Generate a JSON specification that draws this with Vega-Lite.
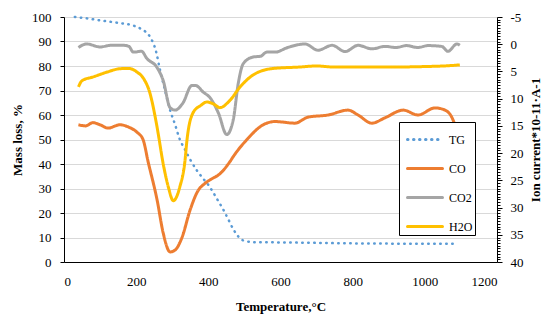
{
  "$schema": "https://vega.github.io/schema/vega-lite/v6.json",
  "width": 433,
  "height": 245,
  "autosize": {"type": "none"},
  "padding": {"left": 64, "top": 17, "right": 53, "bottom": 58},
  "background": "white",
  "config": {
    "view": {"stroke": null},
    "font": "Liberation Serif",
    "axis": {"labelFont": "Liberation Serif", "titleFont": "Liberation Serif", "labelFontSize": 13, "titleFontSize": 13, "titleFontWeight": "bold", "labelColor": "#000", "titleColor": "#000", "domainColor": "#000", "tickColor": "#000"}
  },
  "datasets": {
    "tg": [
      {"series": "TG", "T": 30, "v": 100}, {"series": "TG", "T": 60, "v": 99.5}, {"series": "TG", "T": 100, "v": 98.6}, {"series": "TG", "T": 150, "v": 97.6},
      {"series": "TG", "T": 192, "v": 96.5}, {"series": "TG", "T": 215, "v": 95}, {"series": "TG", "T": 238, "v": 92}, {"series": "TG", "T": 255, "v": 86},
      {"series": "TG", "T": 266, "v": 78.5}, {"series": "TG", "T": 280, "v": 70}, {"series": "TG", "T": 294, "v": 62}, {"series": "TG", "T": 308, "v": 56},
      {"series": "TG", "T": 321, "v": 50}, {"series": "TG", "T": 335, "v": 46}, {"series": "TG", "T": 349, "v": 42}, {"series": "TG", "T": 370, "v": 37},
      {"series": "TG", "T": 386, "v": 34}, {"series": "TG", "T": 400, "v": 31.5}, {"series": "TG", "T": 413, "v": 28.5}, {"series": "TG", "T": 427, "v": 25},
      {"series": "TG", "T": 441, "v": 21.5}, {"series": "TG", "T": 455, "v": 17.5}, {"series": "TG", "T": 469, "v": 13.4}, {"series": "TG", "T": 480, "v": 11},
      {"series": "TG", "T": 490, "v": 9.3}, {"series": "TG", "T": 505, "v": 8.5}, {"series": "TG", "T": 524, "v": 8.1}, {"series": "TG", "T": 600, "v": 8.0},
      {"series": "TG", "T": 700, "v": 7.8}, {"series": "TG", "T": 800, "v": 7.6}, {"series": "TG", "T": 900, "v": 7.5}, {"series": "TG", "T": 1000, "v": 7.5},
      {"series": "TG", "T": 1084, "v": 7.5}
    ],
    "ion": [
      {"series": "CO", "T": 40, "v": 14.8}, {"series": "CO", "T": 60, "v": 15.0}, {"series": "CO", "T": 80, "v": 14.4}, {"series": "CO", "T": 100, "v": 14.8},
      {"series": "CO", "T": 122, "v": 15.4}, {"series": "CO", "T": 155, "v": 14.8}, {"series": "CO", "T": 180, "v": 15.25}, {"series": "CO", "T": 202, "v": 16.15},
      {"series": "CO", "T": 219, "v": 17.5}, {"series": "CO", "T": 233, "v": 21.55}, {"series": "CO", "T": 258, "v": 28.6}, {"series": "CO", "T": 275, "v": 34.7},
      {"series": "CO", "T": 294, "v": 38.15}, {"series": "CO", "T": 308, "v": 37.8}, {"series": "CO", "T": 327, "v": 35.5}, {"series": "CO", "T": 349, "v": 30.55},
      {"series": "CO", "T": 371, "v": 26.95}, {"series": "CO", "T": 390, "v": 25.6}, {"series": "CO", "T": 405, "v": 24.9}, {"series": "CO", "T": 432, "v": 23.8},
      {"series": "CO", "T": 460, "v": 21.55}, {"series": "CO", "T": 469, "v": 20.65}, {"series": "CO", "T": 507, "v": 17.5}, {"series": "CO", "T": 552, "v": 14.8},
      {"series": "CO", "T": 585, "v": 14.2}, {"series": "CO", "T": 640, "v": 14.5}, {"series": "CO", "T": 676, "v": 13.4}, {"series": "CO", "T": 732, "v": 13.0},
      {"series": "CO", "T": 787, "v": 12.1}, {"series": "CO", "T": 815, "v": 13.0}, {"series": "CO", "T": 853, "v": 14.5}, {"series": "CO", "T": 890, "v": 13.5},
      {"series": "CO", "T": 940, "v": 12.1}, {"series": "CO", "T": 981, "v": 13.0}, {"series": "CO", "T": 1028, "v": 11.7}, {"series": "CO", "T": 1056, "v": 12.1},
      {"series": "CO", "T": 1075, "v": 13.45}, {"series": "CO", "T": 1090, "v": 16.15},
      {"series": "CO2", "T": 40, "v": 0.6}, {"series": "CO2", "T": 63, "v": -0.05}, {"series": "CO2", "T": 100, "v": 0.5}, {"series": "CO2", "T": 130, "v": 0.2},
      {"series": "CO2", "T": 164, "v": 0.2}, {"series": "CO2", "T": 180, "v": 0.4}, {"series": "CO2", "T": 192, "v": 1.45}, {"series": "CO2", "T": 215, "v": 1.3},
      {"series": "CO2", "T": 230, "v": 2.65}, {"series": "CO2", "T": 257, "v": 4.2}, {"series": "CO2", "T": 275, "v": 6.7}, {"series": "CO2", "T": 294, "v": 11.65},
      {"series": "CO2", "T": 308, "v": 12.1}, {"series": "CO2", "T": 330, "v": 10.75}, {"series": "CO2", "T": 354, "v": 7.6}, {"series": "CO2", "T": 365, "v": 7.6},
      {"series": "CO2", "T": 386, "v": 8.8}, {"series": "CO2", "T": 405, "v": 9.85}, {"series": "CO2", "T": 428, "v": 12.65}, {"series": "CO2", "T": 451, "v": 16.6},
      {"series": "CO2", "T": 469, "v": 13.9}, {"series": "CO2", "T": 483, "v": 7.15}, {"series": "CO2", "T": 497, "v": 3.55}, {"series": "CO2", "T": 524, "v": 2.35},
      {"series": "CO2", "T": 545, "v": 2.2}, {"series": "CO2", "T": 562, "v": 1.45}, {"series": "CO2", "T": 585, "v": 1.45}, {"series": "CO2", "T": 620, "v": 0.6},
      {"series": "CO2", "T": 668, "v": -0.05}, {"series": "CO2", "T": 704, "v": 1.1}, {"series": "CO2", "T": 743, "v": 0.2}, {"series": "CO2", "T": 779, "v": 1.35},
      {"series": "CO2", "T": 815, "v": 0.2}, {"series": "CO2", "T": 853, "v": 0.85}, {"series": "CO2", "T": 890, "v": 0.4}, {"series": "CO2", "T": 920, "v": 0.6},
      {"series": "CO2", "T": 950, "v": 0.25}, {"series": "CO2", "T": 980, "v": 0.6}, {"series": "CO2", "T": 1010, "v": 0.25}, {"series": "CO2", "T": 1047, "v": 0.4},
      {"series": "CO2", "T": 1064, "v": 1.3}, {"series": "CO2", "T": 1089, "v": -0.05}, {"series": "CO2", "T": 1097, "v": 0.2},
      {"series": "H2O", "T": 40, "v": 7.85}, {"series": "H2O", "T": 50, "v": 6.7}, {"series": "H2O", "T": 81, "v": 6.0}, {"series": "H2O", "T": 120, "v": 5.1},
      {"series": "H2O", "T": 155, "v": 4.5}, {"series": "H2O", "T": 180, "v": 4.45}, {"series": "H2O", "T": 202, "v": 5.1}, {"series": "H2O", "T": 220, "v": 6.25},
      {"series": "H2O", "T": 238, "v": 8.95}, {"series": "H2O", "T": 258, "v": 15.25}, {"series": "H2O", "T": 275, "v": 22}, {"series": "H2O", "T": 289, "v": 26.2},
      {"series": "H2O", "T": 303, "v": 28.75}, {"series": "H2O", "T": 321, "v": 26.2}, {"series": "H2O", "T": 335, "v": 21.55}, {"series": "H2O", "T": 341, "v": 17.5},
      {"series": "H2O", "T": 358, "v": 12.55}, {"series": "H2O", "T": 380, "v": 11.2}, {"series": "H2O", "T": 396, "v": 10.6}, {"series": "H2O", "T": 415, "v": 11.0},
      {"series": "H2O", "T": 432, "v": 11.65}, {"series": "H2O", "T": 460, "v": 10.3}, {"series": "H2O", "T": 488, "v": 7.85}, {"series": "H2O", "T": 524, "v": 5.65},
      {"series": "H2O", "T": 580, "v": 4.45}, {"series": "H2O", "T": 650, "v": 4.2}, {"series": "H2O", "T": 700, "v": 4.0}, {"series": "H2O", "T": 750, "v": 4.2},
      {"series": "H2O", "T": 800, "v": 4.2}, {"series": "H2O", "T": 900, "v": 4.2}, {"series": "H2O", "T": 1000, "v": 4.1}, {"series": "H2O", "T": 1050, "v": 4.0},
      {"series": "H2O", "T": 1097, "v": 3.8}
    ]
  },
  "layer": [
    {
      "data": {"name": "tg"},
      "mark": {"type": "line", "strokeWidth": 2.5, "strokeCap": "round", "interpolate": "monotone"},
      "encoding": {
        "x": {"field": "T", "type": "quantitative", "scale": {"domain": [0, 1200], "nice": false},
          "axis": {"title": "Temperature,°C", "values": [0, 200, 400, 600, 800, 1000, 1200], "format": "d", "ticks": false, "grid": false, "labelPadding": 13, "titlePadding": 12}},
        "y": {"field": "v", "type": "quantitative", "scale": {"domain": [0, 100], "nice": false},
          "axis": {"title": "Mass loss, %", "values": [0, 10, 20, 30, 40, 50, 60, 70, 80, 90, 100], "grid": true, "gridColor": "#D9D9D9", "tickSize": 4, "labelPadding": 9, "titlePadding": 7}},
        "color": {"field": "series", "type": "nominal", "sort": ["TG", "CO", "CO2", "H2O"],
          "scale": {"domain": ["TG", "CO", "CO2", "H2O"], "range": ["#5B9BD5", "#ED7D31", "#A5A5A5", "#FFC000"]},
          "legend": {"title": null, "orient": "none", "legendX": 335, "legendY": 105, "strokeColor": "#000", "padding": 2, "rowPadding": 7,
            "symbolType": "M-1.25,0H1.25", "symbolSize": 784, "symbolOffset": 8.5, "symbolStrokeWidth": 3, "labelFont": "Liberation Serif", "labelFontSize": 12, "labelColor": "#000", "labelOffset": 8.5, "fillColor": "white",
            "encode": {"symbols": {"update": {"strokeCap": {"value": "round"}}}}}},
        "strokeDash": {"field": "series", "type": "nominal", "sort": ["TG", "CO", "CO2", "H2O"],
          "scale": {"domain": ["TG", "CO", "CO2", "H2O"], "range": [[0.5, 5.5], [1, 0], [1, 0], [1, 0]]}, "legend": null}
      }
    },
    {
      "data": {"name": "ion"},
      "mark": {"type": "line", "strokeWidth": 3, "interpolate": "monotone"},
      "encoding": {
        "x": {"field": "T", "type": "quantitative"},
        "y": {"field": "v", "type": "quantitative", "scale": {"domain": [-5, 40], "nice": false, "zero": false, "reverse": true},
          "axis": {"orient": "right", "title": "Ion current*10-11·A-1", "titleAngle": 270, "grid": false,
            "values": [-5,-4.5,-4,-3.5,-3,-2.5,-2,-1.5,-1,-0.5,0,0.5,1,1.5,2,2.5,3,3.5,4,4.5,5,5.5,6,6.5,7,7.5,8,8.5,9,9.5,10,10.5,11,11.5,12,12.5,13,13.5,14,14.5,15,15.5,16,16.5,17,17.5,18,18.5,19,19.5,20,20.5,21,21.5,22,22.5,23,23.5,24,24.5,25,25.5,26,26.5,27,27.5,28,28.5,29,29.5,30,30.5,31,31.5,32,32.5,33,33.5,34,34.5,35,35.5,36,36.5,37,37.5,38,38.5,39,39.5,40],
            "labelExpr": "datum.value % 5 === 0 ? toString(datum.value) : ''",
            "tickSize": {"condition": {"test": "datum.value % 5 === 0", "value": 5}, "value": 3},
            "labelPadding": 8, "titlePadding": 19}},
        "color": {"field": "series", "type": "nominal"},
        "strokeDash": {"field": "series", "type": "nominal"}
      }
    }
  ],
  "resolve": {"scale": {"y": "independent"}}
}
